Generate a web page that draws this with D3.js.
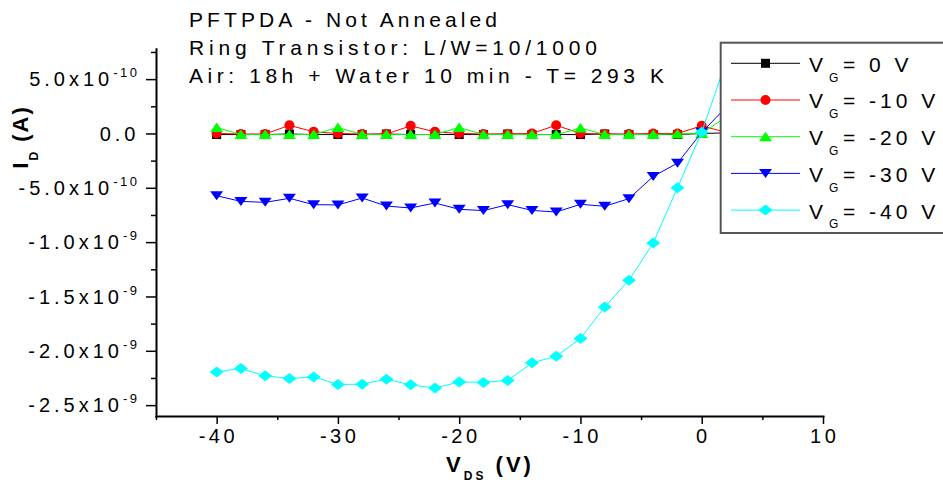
<!DOCTYPE html>
<html>
<head>
<meta charset="utf-8">
<script src="https://cdnjs.cloudflare.com/ajax/libs/d3/7.8.5/d3.min.js"></script>
<style>
body { margin: 0; background: #fff; }
svg { display: block; font-family: "Liberation Sans", Arial, sans-serif; }
</style>
</head>
<body>
<div id="chart"></div>
<script>
// drain voltage (V) and drain current for each gate voltage (nA)
var vds = [-40, -38, -36, -34, -32, -30, -28, -26, -24, -22, -20, -18, -16, -14, -12, -10, -8, -6, -4, -2, 0, 2];
var id0   = [-0.01, -0.01, -0.01, -0.005, -0.01, -0.01, -0.01, -0.005, -0.01, -0.01, -0.01, -0.01, -0.005, -0.01, -0.01, -0.01, -0.005, -0.01, -0.01, -0.01, 0, 0.005];
var id10  = [0, -0.005, -0.005, 0.075, 0.015, 0, -0.005, -0.005, 0.07, 0.015, 0, -0.005, -0.005, 0, 0.075, 0, -0.005, -0.005, 0, 0, 0.07, 0.01];
var id20  = [0.055, -0.01, -0.01, -0.01, -0.01, 0.055, -0.01, -0.01, -0.01, -0.01, 0.055, -0.01, -0.01, -0.01, -0.01, 0.05, -0.01, -0.01, -0.01, -0.005, 0, 0.15];
var id30  = [-0.573, -0.625, -0.634, -0.597, -0.655, -0.658, -0.594, -0.668, -0.686, -0.64, -0.698, -0.71, -0.655, -0.708, -0.723, -0.652, -0.67, -0.6, -0.395, -0.273, 0.01, 0.24];
var id40  = [-2.194, -2.163, -2.23, -2.255, -2.24, -2.31, -2.307, -2.261, -2.313, -2.343, -2.286, -2.291, -2.273, -2.111, -2.05, -1.887, -1.596, -1.351, -1.008, -0.499, 0.012, 0.66];
var gateLabels = ["0", "-10", "-20", "-30", "-40"];

var xTicks = [-40, -30, -20, -10, 0, 10];
var yTicks = [-2.5, -2.0, -1.5, -1.0, -0.5, 0, 0.5];
var yTickMantissa = ["-2.5x10", "-2.0x10", "-1.5x10", "-1.0x10", "-5.0x10", "0.0", "5.0x10"];
var yTickExponent = ["-9", "-9", "-9", "-9", "-10", "", "-10"];
var titleLines = ["PFTPDA - Not Annealed", "Ring Transistor: L/W=10/1000", "Air: 18h + Water 10 min - T= 293 K"];

var svg = d3.select("#chart").append("svg")
    .attr("width", 943)
    .attr("height", 483);

var x = d3.scaleLinear().domain([-45, 10]).range([156, 823]);
var y = d3.scaleLinear().domain([-2.6, 0.78]).range([416, 48.7]);

// marker shapes
var shapes = {
  square:  {draw: function(c){ c.rect(-4.5, -4.5, 9, 9); }},
  circle:  {draw: function(c){ c.moveTo(5, 0); c.arc(0, 0, 5, 0, 2 * Math.PI); }},
  up:      {draw: function(c){ c.moveTo(0, -5); c.lineTo(6.5, 4.5); c.lineTo(-6.5, 4.5); c.closePath(); }},
  down:    {draw: function(c){ c.moveTo(0, 4.5); c.lineTo(6.5, -4.5); c.lineTo(-6.5, -4.5); c.closePath(); }},
  diamond: {draw: function(c){ c.moveTo(0, -5.5); c.lineTo(7, 0); c.lineTo(0, 5.5); c.lineTo(-7, 0); c.closePath(); }}
};

var series = [
  {label: gateLabels[0], values: id0,  color: "#000000", shape: "square"},
  {label: gateLabels[1], values: id10, color: "#ff0000", shape: "circle"},
  {label: gateLabels[2], values: id20, color: "#00ff00", shape: "up"},
  {label: gateLabels[3], values: id30, color: "#0000ff", shape: "down"},
  {label: gateLabels[4], values: id40, color: "#00ffff", shape: "diamond"}
];

var line = d3.line()
    .x(function(d, i){ return x(vds[i]); })
    .y(function(d){ return y(d); });

// title
svg.selectAll(".title")
    .data(titleLines)
  .enter().append("text")
    .attr("class", "title")
    .attr("x", 189)
    .attr("y", function(d, i){ return [26.7, 55, 82.7][i]; })
    .attr("textLength", function(d, i){ return [308, 408, 475][i]; })
    .attr("lengthAdjust", "spacing")
    .style("font-size", "21px")
    .text(function(d){ return d; });

// series
series.forEach(function(s){
  svg.append("path")
      .attr("d", line(s.values))
      .attr("fill", "none")
      .attr("stroke", s.color)
      .attr("stroke-width", 1);
  svg.selectAll(null)
      .data(s.values)
    .enter().append("path")
      .attr("d", d3.symbol(shapes[s.shape])())
      .attr("transform", function(d, i){ return "translate(" + x(vds[i]) + "," + y(d) + ")"; })
      .attr("fill", s.color);
});

// axes
var yAxis = svg.append("g").attr("transform", "translate(156,0)");
yAxis.call(d3.axisLeft(y).tickValues(yTicks).tickSize(10).tickSizeOuter(0).tickFormat(""));
yAxis.append("g").call(d3.axisLeft(y).tickValues(d3.range(-2.25, 0.8, 0.5)).tickSize(5).tickSizeOuter(0).tickFormat(""))
    .select(".domain").remove();

var xAxis = svg.append("g").attr("transform", "translate(0,416)");
xAxis.call(d3.axisBottom(x).tickValues(xTicks).tickSize(8).tickSizeOuter(0).tickFormat(""));
xAxis.append("g").call(d3.axisBottom(x).tickValues(d3.range(-45, 10, 10)).tickSize(4).tickSizeOuter(0).tickFormat(""))
    .select(".domain").remove();

svg.selectAll(".domain").attr("stroke", "#000").attr("stroke-width", 2).attr("stroke-linecap", "square");
svg.selectAll(".tick line").attr("stroke", "#000").attr("stroke-width", 1.5);

// y tick labels
yTicks.forEach(function(v, i){
  var t = svg.append("text")
      .attr("x", 139.5)
      .attr("y", y(v) + 7.2)
      .attr("text-anchor", "end")
      .style("font-size", "20px");
  t.append("tspan").style("letter-spacing", "4px").text(yTickMantissa[i]);
  if (yTickExponent[i]) {
    t.append("tspan").attr("dy", -9).style("font-size", "13px").style("letter-spacing", "2.5px").text(yTickExponent[i]);
  }
});

// x tick labels
svg.selectAll(".xlab")
    .data(xTicks)
  .enter().append("text")
    .attr("class", "xlab")
    .attr("x", function(d){ return x(d) + 1.7; })
    .attr("y", 442.5)
    .attr("text-anchor", "middle")
    .style("font-size", "20px")
    .style("letter-spacing", "3.5px")
    .text(function(d){ return d; });

// axis titles
var xt = svg.append("text")
    .attr("x", 490)
    .attr("y", 471.7)
    .attr("text-anchor", "middle")
    .style("font-weight", "bold")
    .style("font-size", "22px")
    .style("letter-spacing", "3px");
xt.append("tspan").text("V");
xt.append("tspan").attr("dy", 8).style("font-size", "12px").text("DS");
xt.append("tspan").attr("dy", -8).text(" (V)");

var yt = svg.append("text")
    .attr("transform", "translate(28,137) rotate(-90)")
    .attr("text-anchor", "middle")
    .style("font-weight", "bold")
    .style("font-size", "22px")
    .style("letter-spacing", "2px");
yt.append("tspan").text("I");
yt.append("tspan").attr("dy", 10).style("font-size", "12px").text("D");
yt.append("tspan").attr("dy", -10).text(" (A)");

// legend
var legend = svg.append("g");
legend.append("rect")
    .attr("x", 720.7)
    .attr("y", 42.7)
    .attr("width", 260)
    .attr("height", 190.3)
    .attr("fill", "#fff")
    .attr("stroke", "#555")
    .attr("stroke-width", 2);

var rows = legend.selectAll(".row")
    .data(series)
  .enter().append("g")
    .attr("class", "row")
    .attr("transform", function(d, i){ return "translate(0," + (63.3 + i * 36.7) + ")"; });

rows.append("line")
    .attr("x1", 731).attr("x2", 800)
    .attr("stroke", function(d){ return d.color; })
    .attr("stroke-width", 1);
rows.append("path")
    .attr("d", function(d){ return d3.symbol(shapes[d.shape])(); })
    .attr("transform", "translate(765.5,0)")
    .attr("fill", function(d){ return d.color; });

var lt = rows.append("text")
    .attr("y", 8.4)
    .style("font-size", "21px");
lt.append("tspan").attr("x", 809).text("V");
lt.append("tspan").attr("x", 829).attr("dy", 10).style("font-size", "12px").text("G");
lt.append("tspan").attr("x", 843).attr("dy", -10).style("letter-spacing", "4px")
    .text(function(d){ return "= " + d.label + " V"; });
</script>
</body>
</html>
